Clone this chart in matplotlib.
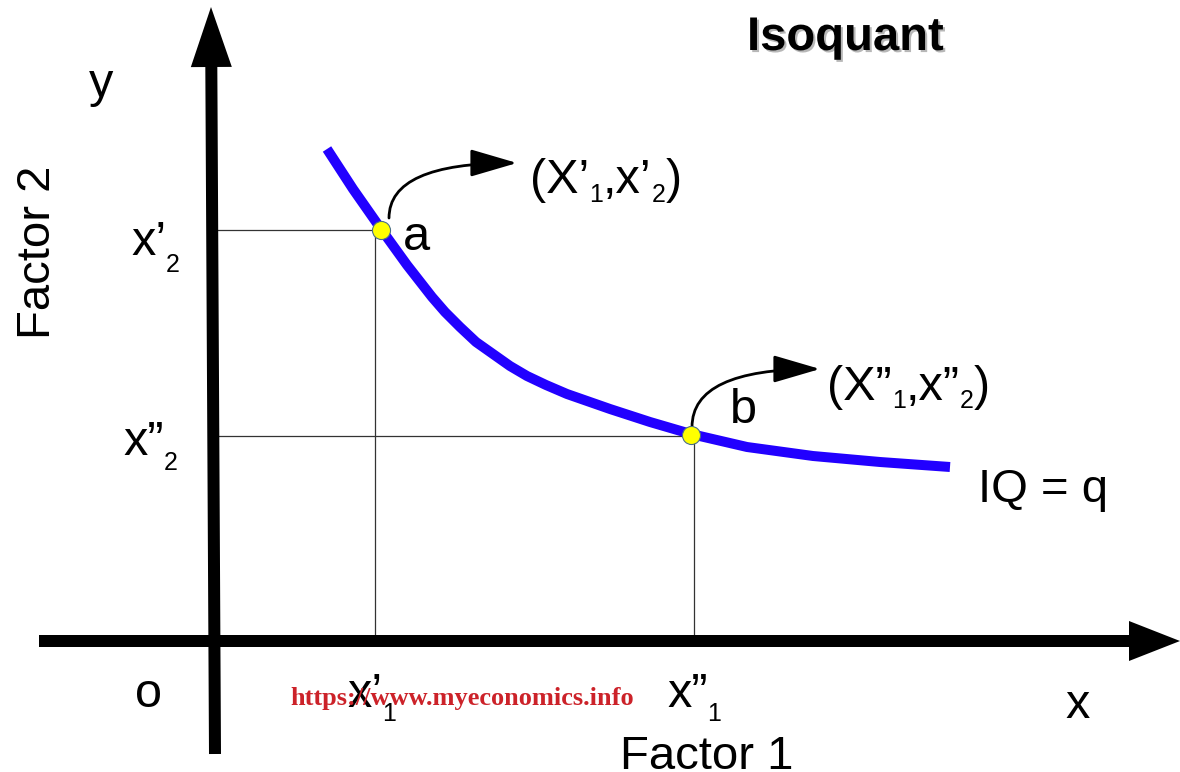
import matplotlib
matplotlib.use("Agg")
import matplotlib.pyplot as plt
import matplotlib.patheffects as pe

# isoquant IQ = q (factor 1 on x, factor 2 on y)
curve_x = [1.15, 1.41, 1.69, 1.95, 2.20, 2.33, 2.48, 2.64, 2.81, 2.98, 3.15, 3.34, 3.55,
           3.98, 4.38, 4.79, 5.35, 6.01, 6.68, 7.38]
curve_y = [4.91, 4.51, 4.11, 3.75, 3.43, 3.28, 3.13, 2.98, 2.86, 2.74, 2.64, 2.55, 2.46,
           2.31, 2.18, 2.06, 1.93, 1.84, 1.78, 1.73]

# the two marked combinations a and b
point_names = ["a", "b"]
point_x = [1.69, 4.79]
point_y = [4.10, 2.05]

# dropped guide lines (x'1, x''1 and x'2, x''2)
guide_x = [1.63, 4.82]
guide_y = [4.10, 2.04]

FONT = "Liberation Sans"

fig = plt.figure(figsize=(11.8, 7.72), dpi=100)
ax = fig.add_axes([0, 0, 1, 1])
ax.set_xlim(-2.12, 9.68)
ax.set_ylim(-1.32, 6.40)
ax.axis("off")

# axes drawn as thick arrows
ax.arrow(0.03, -1.14, -0.04, 7.47, width=0.12, head_width=0.41, head_length=0.60,
         length_includes_head=True, fc="black", ec="none", zorder=3)
ax.arrow(-1.73, -0.01, 11.41, 0, width=0.12, head_width=0.40, head_length=0.51,
         length_includes_head=True, fc="black", ec="none", zorder=3)

# guide lines
for gx, gy in zip(guide_x, guide_y):
    ax.plot([0, gx], [gy, gy], color="#333333", lw=0.9, zorder=1)
    ax.plot([gx, gx], [0, gy], color="#333333", lw=0.9, zorder=1)

# the isoquant
ax.plot(curve_x, curve_y, color="#2200ff", lw=7.2, solid_capstyle="butt",
        solid_joinstyle="round", zorder=2)
ax.plot(point_x, point_y, "o", ms=13, mfc="#ffff00", mec="#4a6f8a", mew=0.8, zorder=4)

# curved arrows pointing to the coordinates
arrow_kw = dict(arrowstyle="-|>,head_length=2.9,head_width=0.85", mutation_scale=10,
                connectionstyle="angle3,angleA=90,angleB=0",
                color="black", lw=2, shrinkA=0, shrinkB=0)
ax.annotate("", xy=(3.05, 4.77), xytext=(1.77, 4.22), arrowprops=arrow_kw)
ax.annotate("", xy=(6.08, 2.71), xytext=(4.80, 2.13), arrowprops=arrow_kw)

renderer = fig.canvas.get_renderer()
inv = ax.transData.inverted()


def rich(x, y, parts, size=35, sub_size=18, drop=0.15):
    # draw text pieces left to right, subscripts smaller and lower
    cx = x
    for s, sub in parts:
        t = ax.text(cx, y - drop if sub else y, s, fontsize=sub_size if sub else size,
                    family=FONT, ha="left", va="baseline", zorder=5)
        bb = t.get_window_extent(renderer)
        x0 = inv.transform((bb.x0, 0))[0]
        x1 = inv.transform((bb.x1, 0))[0]
        cx += x1 - x0


rich(3.18, 4.47, [("(X\u2019", 0), ("1", 1), (",x\u2019", 0), ("2", 1), (")", 0)], drop=0.09)
rich(6.15, 2.40, [("(X\u201d", 0), ("1", 1), (",x\u201d", 0), ("2", 1), (")", 0)], drop=0.08)
rich(-0.81, 3.85, [("x\u2019", 0), ("2", 1)], drop=0.17)
rich(-0.89, 1.85, [("x\u201d", 0), ("2", 1)], drop=0.15)
rich(1.35, -0.67, [("x\u2019", 0), ("1", 1)], drop=0.14)
rich(4.55, -0.67, [("x\u201d", 0), ("1", 1)], drop=0.14)

ax.text(1.91, 3.90, point_names[0], fontsize=35, family=FONT, va="baseline")
ax.text(5.18, 2.17, point_names[1], fontsize=35, family=FONT, va="baseline")
ax.text(7.66, 1.38, "IQ = q", fontsize=34, family=FONT, va="baseline")
ax.text(-1.23, 5.43, "y", fontsize=35, family=FONT, va="baseline")
ax.text(8.53, -0.78, "x", fontsize=35, family=FONT, va="baseline")
ax.text(-0.77, -0.67, "o", fontsize=35, family=FONT, va="baseline")
ax.text(4.95, -1.29, "Factor 1", fontsize=34, family=FONT, ha="center", va="baseline")
ax.text(-1.74, 3.88, "Factor 2", fontsize=34, family=FONT, ha="center", va="center",
        rotation=90)

ax.text(5.35, 5.90, "Isoquant", fontsize=34, family=FONT, weight="bold", va="baseline",
        path_effects=[pe.SimplePatchShadow(offset=(1.5, -1.5), shadow_rgbFace="#888888",
                                           alpha=0.6), pe.Normal()])

ax.text(0.78, -0.65, "https://www.myeconomics.info", fontsize=19,
        family="Liberation Serif", weight="bold", color="#cc2229", va="baseline", zorder=6)

fig.savefig("out.png", dpi=100)
